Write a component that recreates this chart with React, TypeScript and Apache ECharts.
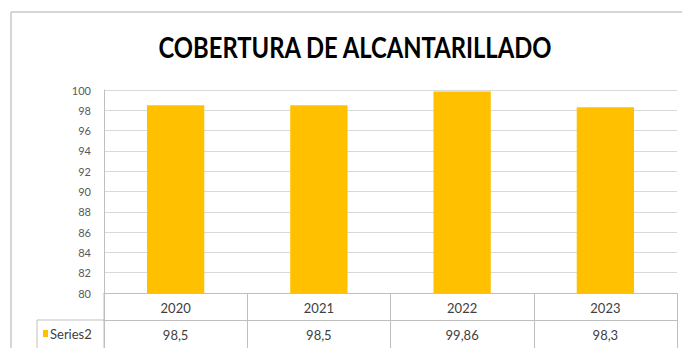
import React, { useEffect, useRef } from "react";
import * as echarts from "echarts";

const categories = ["2020", "2021", "2022", "2023"];
const seriesName = "Series2";
const values = [98.5, 98.5, 99.86, 98.3];
const yTicks = { min: 80, max: 100, interval: 2 };
const titleText = "COBERTURA DE ALCANTARILLADO";

const FONT = "Lato, 'Open Sans', sans-serif";
const BAR = "#FFC000";
const LINE = "#BFBFBF";
const TXT = "#404040";

export default function App() {
  const ref = useRef<HTMLDivElement>(null);
  useEffect(() => {
    const chart = echarts.init(ref.current!, undefined, { renderer: "svg" });
    const fmt = (v: number) => String(v).replace(".", ",");
    const gridLeft = 104;
    const gridRight = 5;
    const gridTop = 90;
    const gridBottom = 55;
    const rowH = 27;
    const axisY = 348 - gridBottom;
    chart.setOption({
      animation: false,
      backgroundColor: "#ffffff",
      grid: { left: gridLeft, right: gridRight, top: gridTop, bottom: gridBottom },
      xAxis: [
        {
          type: "category",
          data: categories,
          position: "bottom",
          axisLine: { show: true, lineStyle: { color: LINE } },
          axisTick: { show: true, alignWithLabel: false, length: rowH, lineStyle: { color: LINE } },
          axisLabel: { fontFamily: FONT, fontSize: 13, color: TXT, margin: 8 },
          splitLine: { show: false },
        },
        {
          type: "category",
          data: values.map(fmt),
          position: "bottom",
          offset: rowH,
          axisLine: { show: true, lineStyle: { color: LINE } },
          axisTick: { show: true, alignWithLabel: false, length: rowH + 2, lineStyle: { color: LINE } },
          axisLabel: { fontFamily: FONT, fontSize: 13, color: TXT, margin: 8 },
        },
      ],
      yAxis: {
        type: "value",
        min: yTicks.min,
        max: yTicks.max,
        interval: yTicks.interval,
        axisLine: { show: true, lineStyle: { color: LINE } },
        axisTick: { show: false },
        axisLabel: { fontFamily: FONT, fontSize: 11, color: "#595959", margin: 13 },
        splitLine: { show: true, lineStyle: { color: "#D9D9D9" } },
      },
      series: [
        {
          name: seriesName,
          type: "bar",
          data: values,
          barWidth: "40%",
          itemStyle: { color: BAR },
          xAxisIndex: 0,
        },
      ],
      graphic: [
        {
          type: "text",
          x: 355,
          y: 47,
          scaleX: 0.85,
          style: {
            text: titleText,
            fontFamily: FONT,
            fontWeight: "bold",
            fontSize: 28,
            fill: "#000000",
            textAlign: "center",
            textVerticalAlign: "middle",
          },
        },
        { type: "line", shape: { x1: 11, y1: 12, x2: 682, y2: 12 }, style: { stroke: "#C8C8C8", lineWidth: 1.5 } },
        { type: "line", shape: { x1: 11, y1: 12, x2: 11, y2: 348 }, style: { stroke: "#C8C8C8", lineWidth: 1.5 } },
        { type: "line", shape: { x1: 37, y1: axisY + rowH, x2: gridLeft, y2: axisY + rowH }, style: { stroke: LINE, lineWidth: 1 } },
        { type: "line", shape: { x1: 37, y1: axisY + rowH, x2: 37, y2: 348 }, style: { stroke: LINE, lineWidth: 1 } },
        { type: "line", shape: { x1: gridLeft, y1: axisY, x2: gridLeft, y2: 348 }, style: { stroke: LINE, lineWidth: 1 } },
        { type: "rect", shape: { x: 43, y: axisY + rowH + 10, width: 5, height: 7 }, style: { fill: BAR } },
        {
          type: "text",
          x: 50,
          y: axisY + rowH + 13.5,
          style: { text: seriesName, fontFamily: FONT, fontSize: 13, fill: TXT, textVerticalAlign: "middle" },
        },
      ],
    });
    return () => chart.dispose();
  }, []);
  return <div ref={ref} style={{ position: "absolute", left: 0, top: 0, width: 682, height: 348 }} />;
}
